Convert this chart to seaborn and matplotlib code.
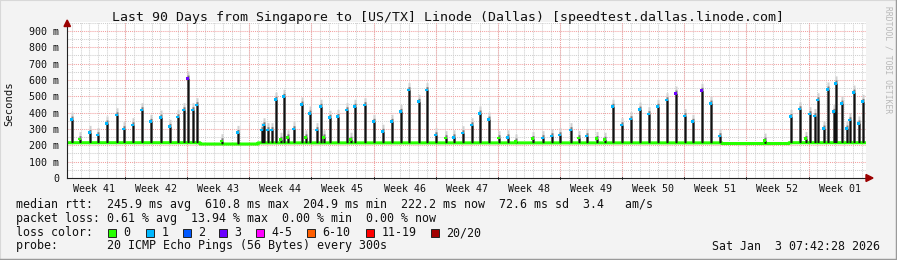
import numpy as np
import pandas as pd
import matplotlib
matplotlib.use("Agg")
import matplotlib.pyplot as plt
import seaborn as sns
from matplotlib.patches import Rectangle, Polygon
from matplotlib.lines import Line2D

# ---------------- data ----------------
title = "Last 90 Days from Singapore to [US/TX] Linode (Dallas) [speedtest.dallas.linode.com]"
y_label = "Seconds"
y_ticks = [0, 100, 200, 300, 400, 500, 600, 700, 800, 900]
y_tick_labels = ["0", "100 m", "200 m", "300 m", "400 m", "500 m",
                 "600 m", "700 m", "800 m", "900 m"]
week_labels = ["Week 41", "Week 42", "Week 43", "Week 44", "Week 45", "Week 46",
               "Week 47", "Week 48", "Week 49", "Week 50", "Week 51", "Week 52",
               "Week 01"]
span_days = 90
first_week_boundary = 6.53   # days from left edge to first Monday

# baseline median rtt (ms) per period: start day, value
base_start = [0.0, 15.0, 21.5, 73.8, 81.3]
base_value = [216, 208, 215, 211, 216]

# daily congestion spikes: day, peak median rtt (ms), lost pings
spike_day = [0.51, 1.46, 2.48, 3.46, 4.47, 5.52, 6.42, 7.43, 8.41, 9.43, 10.48, 11.49,
             12.50, 13.07, 13.52, 14.19, 14.64,
             17.43, 19.15,
             21.93, 22.19, 22.61, 23.06, 23.43, 24.00, 24.44, 24.89, 25.46, 26.44, 26.81,
             27.37, 28.13, 28.50, 28.84, 29.62,
             30.45, 31.51, 31.88, 32.44, 33.49, 34.50, 35.52, 36.57, 37.51, 38.52, 39.57,
             40.52, 41.56, 42.58, 43.51, 44.57, 45.51, 46.52, 47.53, 48.58, 49.59, 50.57,
             52.49, 53.54, 54.52, 55.53, 56.66, 57.59, 58.54, 59.67, 60.60,
             61.47, 62.48, 63.49, 64.46, 65.48, 66.54, 67.55, 68.56, 69.50, 70.48, 71.49,
             72.51, 73.55,
             78.62,
             81.52, 82.49, 83.24, 83.58, 84.25, 84.56, 85.19, 85.64, 86.32, 86.59, 87.26,
             87.75, 88.19, 88.57, 89.21, 89.58]
spike_rtt = [359, 239, 277, 263, 335, 385, 300, 324, 416, 345, 371, 314,
             373, 416, 610, 416, 447,
             226, 277,
             294, 324, 294, 294, 481, 235, 498, 250, 300, 451, 250,
             396, 294, 437, 250, 370,
             375, 416, 235, 437, 447, 345, 284, 345, 406, 539, 467,
             539, 263, 245, 250, 275, 324, 396, 359, 245, 250, 225,
             240, 245, 257, 263, 294, 245, 257, 240, 235,
             437, 324, 361, 420, 392, 437, 477, 518, 380, 345, 535,
             457, 257,
             230,
             375, 422, 240, 392, 380, 477, 304, 543, 406, 580, 457,
             304, 355, 524, 335, 467]
spike_loss = [1, 0, 1, 1, 1, 1, 1, 1, 1, 1, 1, 1, 1, 1, 3, 1, 1,
              0, 1,
              1, 1, 1, 1, 1, 0, 1, 0, 1, 1, 0, 1, 1, 1, 0, 1,
              1, 1, 0, 1, 1, 1, 1, 1, 1, 1, 1, 1, 1, 0, 1, 1, 1, 1, 1, 0, 1, 0,
              0, 1, 1, 1, 1, 0, 1, 0, 0,
              1, 1, 1, 1, 1, 1, 1, 3, 1, 1, 3, 1, 1,
              0,
              1, 1, 0, 1, 1, 1, 1, 1, 1, 1, 1, 1, 1, 1, 1, 1]

loss_labels = ["0", "1", "2", "3", "4-5", "6-10", "11-19", "20/20"]
loss_colors = ["#26ff00", "#00b8ff", "#0059ff", "#6a00ff", "#ff00ff",
               "#ff5e00", "#ff0000", "#a10000"]

stats_lines = [
    "median rtt:  245.9 ms avg  610.8 ms max  204.9 ms min  222.2 ms now  72.6 ms sd  3.4   am/s",
    "packet loss: 0.61 % avg  13.94 % max  0.00 % min  0.00 % now",
    "loss color:",
    "probe:       20 ICMP Echo Pings (56 Bytes) every 300s",
]
date_text = "Sat Jan  3 07:42:28 2026"
watermark = "RRDTOOL / TOBI OETIKER"

# ---------------- build series ----------------
n_cols = 799
dt = span_days / n_cols
t = (np.arange(n_cols) + 0.5) * dt
base = np.zeros(n_cols)
for s, v in zip(base_start, base_value):
    base[t >= s] = v

dark_top = base.copy()
mid_top = base.copy()
light_top = base.copy()
mk_t, mk_v, mk_l = [], [], []
for d, h, l in zip(spike_day, spike_rtt, spike_loss, strict=True):
    k = int(d / dt)
    sl = slice(k, min(k + 2, n_cols))
    dark_top[sl] = np.maximum(dark_top[sl], h)
    mid_top[sl] = np.maximum(mid_top[sl], h + 20)
    light_top[sl] = np.maximum(light_top[sl], h + 45)
    mk_t.append(t[k])
    mk_v.append(h)
    mk_l.append(str(l))

df = pd.DataFrame({"t": t, "base": base})
mk = pd.DataFrame({"t": mk_t, "rtt": mk_v, "loss": mk_l})

# ---------------- figure ----------------
sns.set_style("white")
plt.rcParams["font.family"] = ["DejaVu Sans Mono"]
W, H = 897, 260
BG = "#f3f3f3"
fig = plt.figure(figsize=(W / 100, H / 100), dpi=100, facecolor=BG)

def fx(x):
    return x / W

def fy(y):
    return 1 - y / H

ax = fig.add_axes([fx(67), fy(178), fx(866) - fx(67), (178 - 22) / H])
ax.set_facecolor("white")
ymax = 955
ax.set_xlim(0, span_days)
ax.set_ylim(0, ymax)

# grid
minor_col = "#cfcfcf"
major_col = "#f2a0a0"
dash = (0, (1, 1))
days = np.arange(first_week_boundary - 6, span_days, 1.0)
weeks = np.arange(first_week_boundary, span_days, 7.0)
ax.vlines([d for d in days if d > 0.2], 0, ymax, colors=minor_col, lw=0.75, linestyles=dash, zorder=0)
ax.hlines(np.arange(50, ymax, 100), 0, span_days, colors=minor_col, lw=0.75, linestyles=dash, zorder=0)
ax.vlines(weeks, 0, ymax, colors=major_col, lw=0.75, linestyles=dash, zorder=0.5)
ax.hlines(y_ticks[1:], 0, span_days, colors=major_col, lw=0.75, linestyles=dash, zorder=0.5)

# smoke
ax.fill_between(t, base - 3, light_top, step="mid", color="#d0d0d0", lw=0, zorder=1)
ax.fill_between(t, base - 3, mid_top, step="mid", color="#7a7a7a", lw=0, zorder=1.5)
# median baseline (loss 0)
sns.lineplot(data=df, x="t", y="base", ax=ax, color=loss_colors[0], lw=2.2,
             drawstyle="steps-mid", estimator=None, zorder=2)
ax.fill_between(t, base + 1.5, np.maximum(dark_top, base + 1.5), step="mid",
                color="#111111", lw=0, zorder=3)
palette = {str(i): c for i, c in zip(range(4), loss_colors[:4])}
sns.scatterplot(data=mk, x="t", y="rtt", hue="loss", palette=palette, ax=ax,
                marker="s", s=4, linewidth=0, legend=False, zorder=4)

# axes & ticks
for sp in ["top", "right"]:
    ax.spines[sp].set_visible(False)
for sp in ["left", "bottom"]:
    ax.spines[sp].set_color("#222222")
    ax.spines[sp].set_linewidth(0.8)
ax.set_yticks(y_ticks, y_tick_labels)
ax.set_xticks(np.arange(first_week_boundary - 3.5, span_days, 7.0)[:len(week_labels)],
              week_labels)
ax.tick_params(axis="x", length=0, pad=4, labelsize=7.2, colors="#111111")
ax.tick_params(axis="y", length=3, direction="inout", width=0.7, pad=4,
               labelsize=7.2, colors="#222222", labelcolor="#111111")
ax.set_xlabel("")
ax.set_ylabel("")
for w in weeks:
    ax.plot([w, w], [-6, 4], color="#222222", lw=0.7, clip_on=False, zorder=5)

# arrows
arrow_c = "#9b0000"
fig.patches.append(Polygon([(fx(64), fy(26.5)), (fx(70.5), fy(26.5)), (fx(67.2), fy(20))],
                           closed=True, transform=fig.transFigure, color=arrow_c))
fig.patches.append(Polygon([(fx(866), fy(174.5)), (fx(866), fy(181.5)), (fx(873), fy(178))],
                           closed=True, transform=fig.transFigure, color=arrow_c))

# texts
fig.text(fx(448), fy(18), title, ha="center", va="center", fontsize=9.5, color="#111111")
fig.text(fx(9.5), fy(104), y_label, ha="center", va="center", rotation=90,
         fontsize=7.6, color="#111111")
fig.text(fx(888), fy(60), watermark, ha="center", va="center", rotation=-90,
         fontsize=5.8, color="#b8b8b8")
row_y = [204.5, 218.5, 232.5, 246]
for line, yy in zip(stats_lines, row_y):
    fig.text(fx(16), fy(yy), line, ha="left", va="center", fontsize=8.4, color="#111111")
fig.text(fx(880), fy(246), date_text, ha="right", va="center", fontsize=8.4, color="#111111")

box_x = [108, 146, 183, 219, 256, 307, 366, 431]
for bx, lab, col in zip(box_x, loss_labels, loss_colors):
    fig.patches.append(Rectangle((fx(bx), fy(237)), 8 / W, 8 / H, transform=fig.transFigure,
                                 facecolor=col, edgecolor="#222222", lw=0.7))
    fig.text(fx(bx + 15.5), fy(232.5), lab, ha="left", va="center", fontsize=8.4, color="#111111")

# frame
fig.lines.append(Line2D([0, 0], [0, 1], transform=fig.transFigure, color="#d8d8d8", lw=1.5))
fig.lines.append(Line2D([0, 1], [1, 1], transform=fig.transFigure, color="#d8d8d8", lw=1.5))
fig.lines.append(Line2D([1, 1], [0, 1], transform=fig.transFigure, color="#9a9a9a", lw=2.5))
fig.lines.append(Line2D([0, 1], [0, 0], transform=fig.transFigure, color="#9a9a9a", lw=2.5))

fig.savefig("out.png", dpi=100, facecolor=BG)
